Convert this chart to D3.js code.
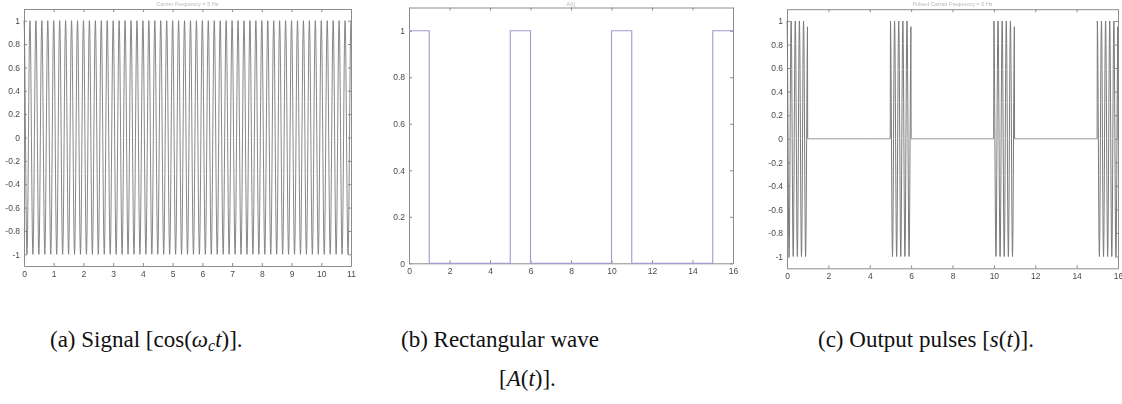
<!DOCTYPE html>
<html>
<head>
<meta charset="utf-8">
<script src="https://cdn.jsdelivr.net/npm/d3@7"></script>
<style>
  html, body { margin: 0; padding: 0; background: #fff; }
  svg { display: block; }
  .tick text { font-family: "Liberation Sans", Arial, sans-serif; font-size: 8.5px; fill: #4a4a4a; }
  .caption { font-family: "Liberation Serif", "Times New Roman", serif; font-size: 23px; fill: #111; }
</style>
</head>
<body>
<svg id="fig" width="1122" height="404"></svg>
<script>
// Signal parameters
const carrierFreq = [5];            // Hz, carrier cos(ωc t)
const sampleStep = [0.01];          // s between samples
const signalSpan = [0, 11];         // time range for panel (a)
const pulseStarts = [0, 5, 10, 15]; // rectangular wave on-times
const pulseWidth = [1];
const pulseSpan = [0, 16];          // time range for panels (b), (c)

// Tick labels
const ticksA_x = [0, 1, 2, 3, 4, 5, 6, 7, 8, 9, 10, 11];
const ticksA_y = [-1, -0.8, -0.6, -0.4, -0.2, 0, 0.2, 0.4, 0.6, 0.8, 1];
const ticksB_x = [0, 2, 4, 6, 8, 10, 12, 14, 16];
const ticksB_y = [0, 0.2, 0.4, 0.6, 0.8, 1];
const ticksC_x = [0, 2, 4, 6, 8, 10, 12, 14, 16];
const ticksC_y = [-1, -0.8, -0.6, -0.4, -0.2, 0, 0.2, 0.4, 0.6, 0.8, 1];

// Panel titles
const panelTitles = ["Carrier Frequency = 5 Hz", "A(t)", "Pulsed Carrier Frequency = 5 Hz"];

const svg = d3.select("#fig");
const defs = svg.append("defs");
defs.append("filter").attr("id", "soft")
  .attr("x", "-5%").attr("y", "-5%").attr("width", "110%").attr("height", "110%")
  .append("feGaussianBlur").attr("stdDeviation", 0.45);

const fmt = d => (d === 0 ? "0" : String(d));

function panel(box, xDomain, yDomain, xt, yt, title) {
  const x = d3.scaleLinear().domain(xDomain).range([box.l, box.r]);
  const y = d3.scaleLinear().domain(yDomain).range([box.b, box.t]);
  const g = svg.append("g").attr("filter", "url(#soft)");
  const axisColor = "#8c8c8c";

  g.append("g").attr("transform", `translate(0,${box.b})`)
    .call(d3.axisBottom(x).tickValues(xt).tickFormat(fmt).tickSizeInner(-3).tickSizeOuter(0).tickPadding(5));
  g.append("g").attr("transform", `translate(0,${box.t})`)
    .call(d3.axisTop(x).tickValues(xt).tickFormat("").tickSizeInner(-3).tickSizeOuter(0));
  g.append("g").attr("transform", `translate(${box.l},0)`)
    .call(d3.axisLeft(y).tickValues(yt).tickFormat(fmt).tickSizeInner(-3).tickSizeOuter(0).tickPadding(4));
  g.append("g").attr("transform", `translate(${box.r},0)`)
    .call(d3.axisRight(y).tickValues(yt).tickFormat("").tickSizeInner(-3).tickSizeOuter(0));
  g.selectAll(".domain").attr("stroke", axisColor);
  g.selectAll(".tick line").attr("stroke", axisColor);

  g.append("text")
    .attr("x", (box.l + box.r) / 2).attr("y", 6)
    .attr("text-anchor", "middle")
    .style("font-family", "Liberation Sans, Arial, sans-serif")
    .style("font-size", "5.5px").style("fill", "#b8b8b8")
    .text(title);
  return { x, y, g };
}

// Sampled time axis
function times(span) {
  const n = Math.round((span[1] - span[0]) / sampleStep[0]);
  return d3.range(n + 1).map(i => span[0] + i * sampleStep[0]);
}
const inPulse = t => pulseStarts.some(s => t >= s && t < s + pulseWidth[0]);
const w = 2 * Math.PI * carrierFreq[0];

// (a) carrier
{
  const p = panel({ l: 24, r: 351, t: 9, b: 266 }, signalSpan, [-1.1, 1.1], ticksA_x, ticksA_y, panelTitles[0]);
  const data = times(signalSpan).map(t => [t, Math.cos(w * t)]);
  p.g.append("path").datum(data)
    .attr("fill", "none").attr("stroke", "#7a7a7a").attr("stroke-width", 0.9)
    .attr("d", d3.line().x(d => p.x(d[0])).y(d => p.y(d[1])));
}

// (b) rectangular wave A(t)
{
  const p = panel({ l: 409, r: 733, t: 7.5, b: 263.3 }, pulseSpan, [0, 1.1], ticksB_x, ticksB_y, panelTitles[1]);
  const steps = [];
  pulseStarts.forEach(s => {
    steps.push([s, 1]);
    const e = s + pulseWidth[0];
    steps.push([e, e >= pulseSpan[1] ? 1 : 0]);
  });
  p.g.append("path").datum(steps)
    .attr("fill", "none").attr("stroke", "#9c9cd2").attr("stroke-width", 1.1)
    .attr("d", d3.line().curve(d3.curveStepAfter).x(d => p.x(d[0])).y(d => p.y(d[1])));
}

// (c) output pulses s(t) = A(t) cos(ωc t)
{
  const p = panel({ l: 787, r: 1118, t: 9.2, b: 268.3 }, pulseSpan, [-1.1, 1.1], ticksC_x, ticksC_y, panelTitles[2]);
  const data = times(pulseSpan).map(t => [t, inPulse(t) ? Math.cos(w * t) : 0]);
  p.g.append("path").datum(data)
    .attr("fill", "none").attr("stroke", "#7a7a7a").attr("stroke-width", 1)
    .attr("d", d3.line().x(d => p.x(d[0])).y(d => p.y(d[1])));
}

// Captions
function caption(x, y, parts) {
  const t = svg.append("text").attr("class", "caption").attr("x", x).attr("y", y);
  parts.forEach(p => {
    const s = t.append("tspan").text(p.s);
    if (p.i) s.style("font-style", "italic");
    if (p.sub) s.attr("dy", 4).style("font-size", "16px");
    if (p.up) s.attr("dy", -4);
  });
}
caption(50, 347, [
  { s: "(a) Signal [cos(" }, { s: "ω", i: true }, { s: "c", i: true, sub: true },
  { s: "t", i: true, up: true }, { s: ")]." }
]);
caption(401, 347, [{ s: "(b) Rectangular wave" }]);
caption(499, 386, [{ s: "[" }, { s: "A", i: true }, { s: "(" }, { s: "t", i: true }, { s: ")]." }]);
caption(818, 347, [
  { s: "(c) Output pulses [" }, { s: "s", i: true }, { s: "(" }, { s: "t", i: true }, { s: ")]." }
]);
</script>
</body>
</html>
